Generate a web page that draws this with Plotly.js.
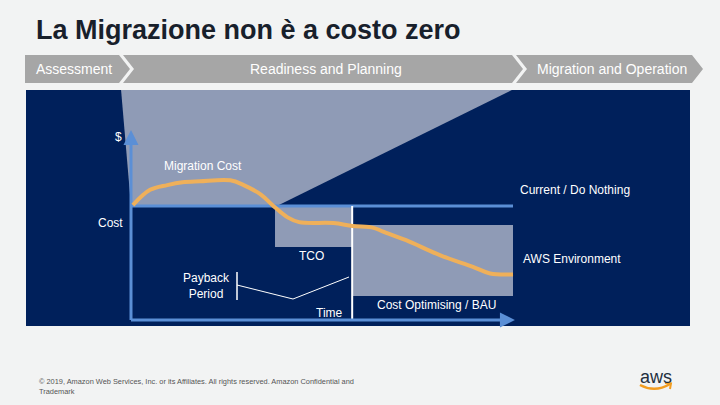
<!DOCTYPE html>
<html>
<head>
<meta charset="utf-8">
<script src="https://cdn.plot.ly/plotly-3.0.1.min.js"></script>
<style>
  html, body { margin: 0; padding: 0; background: #f2f3f3; }
  #chart { width: 720px; height: 405px; }
</style>
</head>
<body>
<div id="chart"></div>
<script>
// ---- Data (conceptual time / cost units, 0..100) ----
const timeSteps = [0.5, 5, 9.5, 13.5, 18, 26, 29.5, 34, 37, 41, 44, 53, 58, 63.5, 66, 72, 81, 89.5, 94, 100];
const awsCost   = [60.5, 68.5, 71, 72.5, 73, 73.5, 71, 66, 60.5, 54, 51.5, 51, 49.5, 48.5, 46.5, 42, 34, 28, 24.5, 24];
const currentCost = 60;               // "Current / Do Nothing" level
const migrationCostTop = [-2.6, 99.7]; // top edge of migration-cost wedge (time)
const migrationCostApex = 38.2;        // where wedge meets current level
const tcoTime = [37.7, 57.9];
const tcoCostLow = 38.4;
const bauTime = [57.9, 100];
const bauCost = [12.6, 50];
const paybackTime = 57.9;
const axisMax = [100.5, 100];
const phases = ["Assessment", "Readiness and Planning", "Migration and Operation"];

// ---- pixel helpers for decoration layout ----
const X = px => (px - 131) / 3.82;
const Y = py => (320 - py) / 1.9;

const navy = '#00205b';
const wedge = '#8f9bb6';
const lightBlue = '#5b8fd6';
const orange = '#efb05a';
const chevGrey = '#a6a6a6';

const shapes = [];
// dark panel
shapes.push({type:'rect', layer:'below', x0:X(26), x1:X(690), y0:Y(90), y1:Y(326), fillcolor:navy, line:{width:0}});
// migration cost wedge
const topY = Y(90);
shapes.push({type:'path', layer:'below',
  path:`M ${migrationCostTop[0]},${topY} L ${migrationCostTop[1]},${topY} L ${migrationCostApex},${currentCost} L 0,${currentCost} Z`,
  fillcolor:wedge, line:{width:0}});
// TCO rect
shapes.push({type:'rect', layer:'below', x0:tcoTime[0], x1:tcoTime[1], y0:tcoCostLow, y1:currentCost, fillcolor:wedge, line:{width:0}});
// BAU rect
shapes.push({type:'rect', layer:'below', x0:bauTime[0], x1:bauTime[1], y0:bauCost[0], y1:bauCost[1], fillcolor:wedge, line:{width:0}});
// current line
shapes.push({type:'line', layer:'below', x0:0, x1:100, y0:currentCost, y1:currentCost, line:{color:lightBlue, width:3}});
// payback vertical
shapes.push({type:'line', layer:'below', x0:paybackTime, x1:paybackTime, y0:0, y1:currentCost, line:{color:'#ffffff', width:2}});
// payback bracket
shapes.push({type:'line', layer:'below', x0:X(237), x1:X(237), y0:Y(272), y1:Y(300), line:{color:'#ffffff', width:1.5}});
shapes.push({type:'path', layer:'below', path:`M ${X(237)},${Y(285)} L ${X(293)},${Y(299)} L ${X(349)},${Y(277)}`, line:{color:'#ffffff', width:1}});
// axes lines
shapes.push({type:'line', layer:'below', x0:0, x1:0, y0:0, y1:axisMax[1]-3, line:{color:lightBlue, width:3}});
shapes.push({type:'line', layer:'below', x0:0, x1:axisMax[0]-1, y0:0, y1:0, line:{color:lightBlue, width:3}});

// chevrons
const chev = [
  `M ${X(25)},${Y(55)} L ${X(119)},${Y(55)} L ${X(130)},${Y(69)} L ${X(119)},${Y(83)} L ${X(25)},${Y(83)} Z`,
  `M ${X(123)},${Y(55)} L ${X(512)},${Y(55)} L ${X(523)},${Y(69)} L ${X(512)},${Y(83)} L ${X(123)},${Y(83)} L ${X(134)},${Y(69)} Z`,
  `M ${X(516)},${Y(55)} L ${X(692)},${Y(55)} L ${X(703)},${Y(69)} L ${X(692)},${Y(83)} L ${X(516)},${Y(83)} L ${X(527)},${Y(69)} Z`
];
chev.forEach(p => shapes.push({type:'path', layer:'below', path:p, fillcolor:chevGrey, line:{width:0}}));

// aws smile
shapes.push({type:'path', path:`M ${X(640)},${Y(385)} Q ${X(655)},${Y(393)} ${X(670)},${Y(384)}`, line:{color:'#f29c1f', width:2.5}});
shapes.push({type:'path', path:`M ${X(665)},${Y(383)} L ${X(671)},${Y(383.5)} L ${X(670)},${Y(389)}`, line:{color:'#f29c1f', width:2}});

const lblFont = {family:'Liberation Sans, Arial, sans-serif', size:12, color:'#ffffff'};
const ann = [];
function txt(text, px, py, xanchor, font, align) {
  ann.push({x:X(px), y:Y(py), xref:'x', yref:'y', text:text, showarrow:false, xanchor:xanchor||'center', yanchor:'middle', align:align||'center', font:font||lblFont});
}
// title
txt('La Migrazione non è a costo zero', 34, 30, 'left', {family:'Liberation Sans, Arial, sans-serif', size:27, color:'#18202b', weight:'bold'});
// phases
const phFont = {family:'Liberation Sans, Arial, sans-serif', size:14, color:'#ffffff'};
txt(phases[0], 74, 69, 'center', phFont);
txt(phases[1], 326, 69, 'center', phFont);
txt(phases[2], 612, 69, 'center', phFont);
// labels
txt('$', 118, 137, 'center');
txt('Migration Cost', 162, 166, 'left');
txt('Current / Do Nothing', 518, 190, 'left');
txt('Cost', 125, 223, 'right');
txt('TCO', 311, 256, 'center');
txt('AWS Environment', 521, 259, 'left');
txt('Payback<br>Period', 206, 286, 'center');
txt('Time', 329, 313, 'center');
txt('Cost Optimising / BAU', 375, 305, 'left');
// footer
txt('© 2019, Amazon Web Services, Inc. or its Affiliates. All rights reserved. Amazon Confidential and<br>Trademark', 37, 386, 'left', {family:'Liberation Sans, Arial, sans-serif', size:7.4, color:'#555555'}, 'left');
txt('aws', 656, 377, 'center', {family:'Liberation Sans, Arial, sans-serif', size:18, color:'#232f3e'});

// axis arrowheads
ann.push({x:0, y:axisMax[1], ax:0, ay:axisMax[1]-8, xref:'x', yref:'y', axref:'x', ayref:'y', text:'', showarrow:true, arrowhead:2, arrowsize:1, arrowwidth:3, arrowcolor:lightBlue});
ann.push({x:axisMax[0], y:0, ax:axisMax[0]-4, ay:0, xref:'x', yref:'y', axref:'x', ayref:'y', text:'', showarrow:true, arrowhead:2, arrowsize:1, arrowwidth:3, arrowcolor:lightBlue});

const traces = [{
  x: timeSteps, y: awsCost, type:'scatter', mode:'lines',
  line:{color:orange, width:4, shape:'spline', smoothing:1},
  hoverinfo:'skip'
}];

const layout = {
  width:720, height:405,
  margin:{l:0, r:0, t:0, b:0},
  paper_bgcolor:'#f2f3f3', plot_bgcolor:'rgba(0,0,0,0)',
  showlegend:false,
  xaxis:{range:[X(0), X(720)], visible:false, fixedrange:true},
  yaxis:{range:[Y(405), Y(0)], visible:false, fixedrange:true},
  shapes:shapes, annotations:ann
};
Plotly.newPlot('chart', traces, layout, {displayModeBar:false, staticPlot:true});
</script>
</body>
</html>
